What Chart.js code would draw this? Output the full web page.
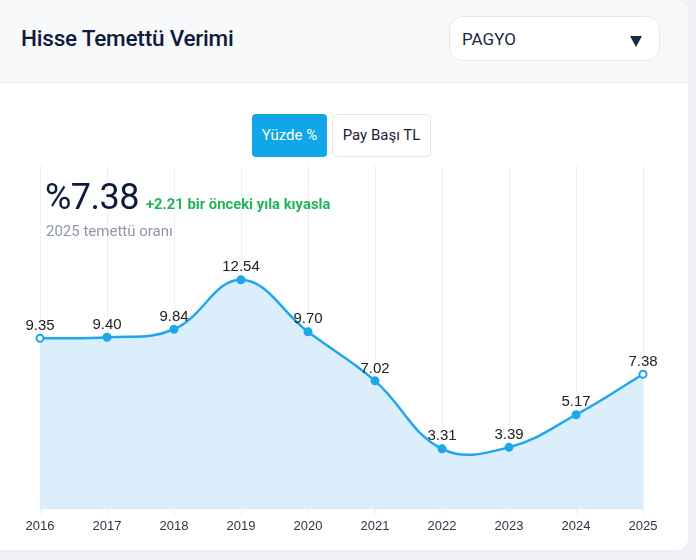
<!DOCTYPE html>
<html>
<head>
<meta charset="utf-8">
<script src="https://cdn.jsdelivr.net/npm/chart.js@4/dist/chart.umd.min.js"></script>
<style>
  html, body { margin:0; padding:0; }
  body { width:696px; height:560px; background:#eef0f5; position:relative; overflow:hidden; font-family: Roboto, "Liberation Sans", Arial, sans-serif; }
  .card { position:absolute; left:0; top:0; width:688px; height:550px; background:#fff; border-radius:0 12px 12px 0; overflow:hidden; }
  .header { position:absolute; left:0; top:0; width:688px; height:82px; background:#f8f9fa; border-bottom:1px solid #eceef3; }
  .title { position:absolute; left:21px; top:25px; font-size:22.5px; font-weight:500; color:#0f1b3d; letter-spacing:-0.2px; }
  .select { position:absolute; left:449px; top:16px; width:211px; height:45px; box-sizing:border-box; border:1px solid #e6e8ec; border-radius:13px; background:#fff; }
  .select .v { position:absolute; left:12px; top:12px; font-size:17px; color:#1a2942; }
  .select .arr { position:absolute; left:180px; top:19px; width:0; height:0; border-left:6px solid transparent; border-right:6px solid transparent; border-top:11px solid #1a2942; }
  .btn { position:absolute; top:114px; height:43px; box-sizing:border-box; border-radius:4px; font-size:15px; line-height:43px; text-align:center; }
  .b1 { left:252px; width:75px; background:#10a6e8; color:#fff; }
  .b2 { left:332px; width:99px; background:#fff; color:#1a2233; border:1px solid #e3e6ea; line-height:41px; }
  canvas { position:absolute; left:0; top:150px; }
  .big { position:absolute; left:45px; top:176px; font-size:36px; color:#0f1b3d; font-weight:400; letter-spacing:-0.5px; }
  .chg { position:absolute; left:146px; top:195px; font-size:14.8px; font-weight:700; color:#22b45a; }
  .sub { position:absolute; left:46px; top:222px; font-size:15px; color:#8d96a5; }
</style>
</head>
<body>
<div class="card">
  <div class="header">
    <div class="title">Hisse Temettü Verimi</div>
    <div class="select"><span class="v">PAGYO</span><span class="arr"></span></div>
  </div>
  <canvas id="c" width="688" height="395"></canvas>
  <div class="btn b1">Yüzde %</div>
  <div class="btn b2">Pay Başı TL</div>
  <div class="big">%7.38</div>
  <div class="chg">+2.21 bir önceki yıla kıyasla</div>
  <div class="sub">2025 temettü oranı</div>
</div>
<script>
const years = ["2016","2017","2018","2019","2020","2021","2022","2023","2024","2025"];
const yieldPct = [9.35, 9.40, 9.84, 12.54, 9.70, 7.02, 3.31, 3.39, 5.17, 7.38];

const LINE = '#1fa8e9';
const labelPlugin = {
  id: 'valueLabels',
  afterDatasetsDraw(chart) {
    const ctx = chart.ctx;
    const meta = chart.getDatasetMeta(0);
    ctx.save();
    ctx.font = '15px "Liberation Sans", Arial, sans-serif';
    ctx.fillStyle = '#222';
    ctx.textAlign = 'center';
    ctx.textBaseline = 'bottom';
    meta.data.forEach((pt, i) => {
      ctx.fillText(yieldPct[i].toFixed(2), pt.x, pt.y - 5);
    });
    ctx.restore();
  }
};

new Chart(document.getElementById('c'), {
  type: 'line',
  data: {
    labels: years,
    datasets: [{
      data: yieldPct,
      borderColor: LINE,
      borderWidth: 2.5,
      tension: 0.4,
      fill: 'origin',
      backgroundColor: '#daeffb',
      pointRadius: 3.5,
      pointBorderWidth: 2,
      pointBorderColor: LINE,
      pointBackgroundColor: (c) => (c.dataIndex === 0 || c.dataIndex === yieldPct.length - 1) ? '#ffffff' : LINE
    }]
  },
  options: {
    responsive: false,
    animation: false,
    layout: { padding: { left: 40, right: 45, top: 15, bottom: 8 } },
    plugins: { legend: { display: false }, tooltip: { enabled: false } },
    scales: {
      x: {
        offset: false,
        grid: { color: '#edf0f5', tickLength: 6, drawOnChartArea: true },
        border: { display: false },
        ticks: { color: '#2d3648', font: { size: 13, family: '"Liberation Sans", Arial, sans-serif' }, padding: 3, maxRotation: 0 }
      },
      y: {
        display: false,
        min: 0,
        max: Math.max(...yieldPct) * 1.5
      }
    }
  },
  plugins: [labelPlugin]
});
</script>
</body>
</html>
